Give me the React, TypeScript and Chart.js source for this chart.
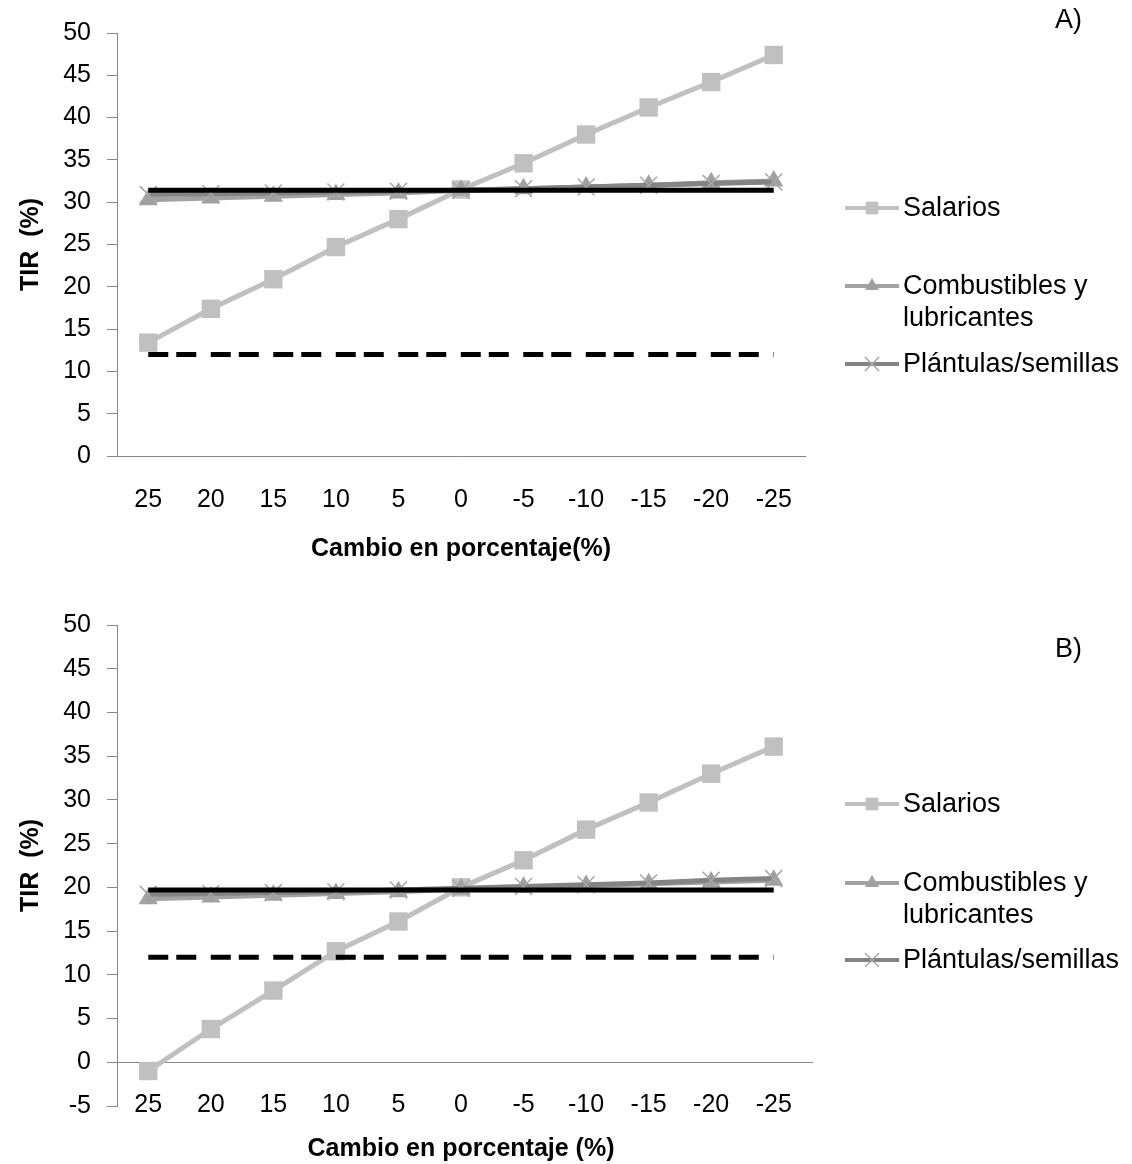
import React, { useEffect, useRef } from "react";
import { Chart, registerables } from "chart.js";
import { drawPoint } from "chart.js/helpers";

Chart.register(...registerables);

// ---------------- data ----------------
const categories = ["25", "20", "15", "10", "5", "0", "-5", "-10", "-15", "-20", "-25"];

const salariosA = [13.4, 17.4, 20.9, 24.7, 28.0, 31.5, 34.6, 38.0, 41.2, 44.2, 47.4];
const combustiblesA = [30.3, 30.5, 30.7, 30.9, 31.1, 31.4, 31.6, 31.8, 32.0, 32.3, 32.5];
const plantulasA = [30.9, 31.0, 31.1, 31.2, 31.3, 31.4, 31.6, 31.8, 32.0, 32.2, 32.4];
const baseA = [31.4, 31.4, 31.4, 31.4, 31.4, 31.4, 31.4, 31.4, 31.4, 31.4, 31.4];
const umbralA = [12, 12, 12, 12, 12, 12, 12, 12, 12, 12, 12];

const salariosB = [-1.0, 3.8, 8.2, 12.7, 16.1, 20.0, 23.1, 26.6, 29.7, 33.0, 36.1];
const combustiblesB = [18.7, 18.9, 19.1, 19.3, 19.5, 19.8, 20.0, 20.2, 20.4, 20.6, 20.8];
const plantulasB = [19.2, 19.3, 19.4, 19.5, 19.7, 19.9, 20.1, 20.3, 20.5, 20.8, 21.0];
const baseB = [19.7, 19.7, 19.7, 19.7, 19.7, 19.7, 19.7, 19.7, 19.7, 19.7, 19.7];
const umbralB = [12, 12, 12, 12, 12, 12, 12, 12, 12, 12, 12];

const yTicksA = { min: 0, max: 50, step: 5 };
const yTicksB = { min: -5, max: 50, step: 5 };

const legendLabels = [["Salarios"], ["Combustibles y", "lubricantes"], ["Plántulas/semillas"]];
const yTitle = "TIR  (%)";
const xTitleA = "Cambio en porcentaje(%)";
const xTitleB = "Cambio en porcentaje (%)";

// ---------------- styling ----------------
const FONT = "'Liberation Sans', Arial, sans-serif";
const AXIS_GREY = "#868686";
const W = 1132;
const H = 582;

const sideLegendPlugin = {
  id: "sideLegend",
  afterDraw(chart: any, _args: any, opts: any) {
    const ctx = chart.ctx as CanvasRenderingContext2D;
    ctx.save();
    opts.items.forEach((item: any) => {
      const ds = chart.data.datasets[item.index];
      const y = item.y;
      ctx.strokeStyle = ds.borderColor;
      ctx.lineWidth = 4;
      ctx.setLineDash([]);
      ctx.beginPath();
      ctx.moveTo(opts.x, y);
      ctx.lineTo(opts.x + 54, y);
      ctx.stroke();
      ctx.fillStyle = ds.pointBackgroundColor || ds.borderColor;
      ctx.strokeStyle = ds.pointBorderColor || ds.borderColor;
      ctx.lineWidth = ds.pointBorderWidth || 0;
      drawPoint(
        ctx,
        {
          pointStyle: ds.pointStyle,
          radius: item.radius,
          rotation: 0,
          borderWidth: ds.pointBorderWidth || 0,
        } as any,
        opts.x + 27,
        y
      );
      ctx.fillStyle = "#000";
      ctx.font = `27px ${FONT}`;
      ctx.textAlign = "left";
      ctx.textBaseline = "middle";
      item.lines.forEach((t: string, i: number) => {
        ctx.fillText(t, opts.x + 58, y + 1 + i * 32);
      });
    });
    ctx.font = `27px ${FONT}`;
    ctx.fillStyle = "#000";
    ctx.textAlign = "left";
    ctx.textBaseline = "middle";
    ctx.fillText(opts.panel, opts.panelX, opts.panelY);
    ctx.restore();
  },
};

const zeroLinePlugin = {
  id: "zeroLine",
  beforeDatasetsDraw(chart: any, _args: any, opts: any) {
    if (!opts.show) return;
    const ctx = chart.ctx as CanvasRenderingContext2D;
    const y = Math.round(chart.scales.y.getPixelForValue(0)) + 0.5;
    ctx.save();
    ctx.strokeStyle = AXIS_GREY;
    ctx.lineWidth = 1;
    ctx.beginPath();
    ctx.moveTo(chart.chartArea.left, y);
    ctx.lineTo(chart.chartArea.right + 8, y);
    ctx.stroke();
    ctx.restore();
  },
};

type Panel = {
  sal: number[];
  comb: number[];
  plant: number[];
  base: number[];
  umbral: number[];
  yt: { min: number; max: number; step: number };
  xTitle: string;
  top: number;
  bottom: number;
  xLabelPad: number;
  xMirror: boolean;
  xTitlePad: number;
  yTitlePad: number;
  zero: boolean;
  legendY: number[];
  panel: string;
  panelY: number;
};

function makeConfig(p: Panel): any {
  return {
    type: "line",
    data: {
      labels: categories,
      datasets: [
        {
          label: "Salarios",
          data: p.sal,
          borderColor: "#C0C0C0",
          backgroundColor: "#C0C0C0",
          pointBackgroundColor: "#C0C0C0",
          pointBorderColor: "#C0C0C0",
          borderWidth: 5,
          pointStyle: "rect",
          pointRadius: 13,
          pointBorderWidth: 0,
          order: 4,
        },
        {
          label: "Combustibles y lubricantes",
          data: p.comb,
          borderColor: "#A3A3A3",
          backgroundColor: "#A0A0A0",
          pointBackgroundColor: "#A0A0A0",
          pointBorderColor: "#A0A0A0",
          borderWidth: 5,
          pointStyle: "triangle",
          pointRadius: 11,
          pointBorderWidth: 0,
          order: 3,
        },
        {
          label: "Plántulas/semillas",
          data: p.plant,
          borderColor: "#848484",
          backgroundColor: "#A8A8A8",
          pointBackgroundColor: "#A8A8A8",
          pointBorderColor: "#A8A8A8",
          borderWidth: 5,
          pointStyle: "crossRot",
          pointRadius: 12,
          pointBorderWidth: 1.5,
          order: 2,
        },
        {
          label: "base",
          data: p.base,
          borderColor: "#000000",
          borderWidth: 5,
          pointRadius: 0,
          order: 0,
        },
        {
          label: "umbral",
          data: p.umbral,
          borderColor: "#000000",
          borderWidth: 5,
          borderDash: [20, 8, 20, 14.5],
          pointRadius: 0,
          order: 1,
        },
      ],
    },
    options: {
      responsive: false,
      animation: false,
      devicePixelRatio: 1,
      layout: { padding: { top: p.top, right: W - 805, bottom: 0, left: 0 } },
      plugins: {
        legend: { display: false },
        tooltip: { enabled: false },
        sideLegend: {
          x: 845,
          items: [
            { index: 0, y: p.legendY[0], lines: legendLabels[0], radius: 9 },
            { index: 1, y: p.legendY[1], lines: legendLabels[1], radius: 8 },
            { index: 2, y: p.legendY[2], lines: legendLabels[2], radius: 10 },
          ],
          panel: p.panel,
          panelX: 1055,
          panelY: p.panelY,
        },
        zeroLine: { show: p.zero },
      },
      scales: {
        x: {
          type: "category",
          offset: true,
          grid: { display: false, drawTicks: false },
          border: { display: !p.zero, color: AXIS_GREY, width: 1 },
          ticks: {
            color: "#000",
            font: { family: FONT, size: 25 },
            padding: p.xLabelPad,
            mirror: p.xMirror,
            maxRotation: 0,
            autoSkip: false,
          },
          title: {
            display: true,
            text: p.xTitle,
            color: "#000",
            font: { family: FONT, size: 25, weight: "bold" },
            padding: { top: 0, bottom: p.xTitlePad },
          },
          afterFit: (s: any) => {
            s.height = H - p.bottom;
          },
        },
        y: {
          min: p.yt.min,
          max: p.yt.max,
          grid: {
            drawOnChartArea: false,
            drawTicks: true,
            tickLength: 10,
            color: AXIS_GREY,
          },
          border: { display: true, color: AXIS_GREY, width: 1 },
          ticks: {
            stepSize: p.yt.step,
            color: "#000",
            font: { family: FONT, size: 25 },
            padding: 16,
          },
          title: {
            display: true,
            text: yTitle,
            color: "#000",
            font: { family: FONT, size: 25, weight: "bold" },
            padding: { top: p.yTitlePad, bottom: 0 },
          },
          afterFit: (s: any) => {
            s.width = 117;
          },
        },
      },
    },
    plugins: [sideLegendPlugin, zeroLinePlugin],
  };
}

const panelA: Panel = {
  sal: salariosA,
  comb: combustiblesA,
  plant: plantulasA,
  base: baseA,
  umbral: umbralA,
  yt: yTicksA,
  xTitle: xTitleA,
  top: 33,
  bottom: 456,
  xLabelPad: 29,
  xMirror: false,
  xTitlePad: 18,
  yTitlePad: 16,
  zero: false,
  legendY: [208, 286, 364],
  panel: "A)",
  panelY: 21,
};

const panelB: Panel = {
  sal: salariosB,
  comb: combustiblesB,
  plant: plantulasB,
  base: baseB,
  umbral: umbralB,
  yt: yTicksB,
  xTitle: xTitleB,
  top: 43,
  bottom: 524,
  xLabelPad: -14,
  xMirror: true,
  xTitlePad: 0,
  yTitlePad: 16,
  zero: true,
  legendY: [222, 301, 378],
  panel: "B)",
  panelY: 68,
};

function LineChart({ panel }: { panel: Panel }) {
  const ref = useRef<HTMLCanvasElement | null>(null);
  useEffect(() => {
    if (!ref.current) return;
    const chart = new Chart(ref.current, makeConfig(panel));
    return () => chart.destroy();
  }, [panel]);
  return (
    <div style={{ width: W, height: H }}>
      <canvas ref={ref} width={W} height={H} style={{ display: "block" }} />
    </div>
  );
}

export default function App() {
  useEffect(() => {
    document.body.style.margin = "0";
    document.body.style.background = "#fff";
  }, []);
  return (
    <div style={{ width: W, background: "#fff" }}>
      <LineChart panel={panelA} />
      <LineChart panel={panelB} />
    </div>
  );
}
